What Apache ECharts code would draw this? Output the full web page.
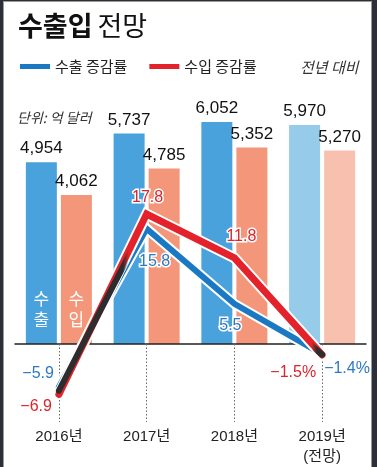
<!DOCTYPE html>
<html>
	<head>
		<meta charset="utf-8">
		<title>수출입 전망</title>
		<style>
			html,body{margin:0;padding:0;background:#2c2f38;}
			#wrap{position:relative;width:377px;height:467px;overflow:hidden;}
			#bg{position:absolute;left:3px;top:1px;width:367px;height:480px;background:#fff;border:1px solid #9a9a9a;}
			#chart{position:absolute;left:0;top:0;width:377px;height:467px;}
		</style>
	</head>
	<body>
		<div id="wrap">
			<div id="bg"></div>
			<div id="chart"></div>
		</div>
		<script src="https://cdn.jsdelivr.net/npm/echarts@6/dist/echarts.min.js" type="text/javascript" charset="utf-8"></script>
		<script type="text/javascript">
			var years = ['2016년','2017년','2018년','2019년\n(전망)'];
			var exportAmt = [4954,5737,6052,5970];
			var importAmt = [4062,4785,5352,5270];
			var exportRate = [-5.9,15.8,5.5,-1.4];
			var importRate = [-6.9,17.8,11.8,-1.5];
			var seriesName = ['수출 증감률','수입 증감률'];

			var numFont = 'Liberation Sans, Arial, Noto Sans CJK KR, sans-serif';
			var krFont = 'Noto Sans CJK KR, sans-serif';
			var blue = '#1b79c4', red = '#e3222b';

			//겹치는 구간 (두 선의 중간값)
			var overlapRate = exportRate.map(function(v,i){
				return (v + importRate[i]) / 2;
			});

			function rateText(v,i){
				var s = Math.abs(v).toFixed(1);
				return (v < 0 ? '−' : '') + s + (i == 3 ? '%' : '');
			}
			function barColors(arr,normal,light){
				return arr.map(function(v,i){
					return {value:v,itemStyle:{color: i == 3 ? light : normal}};
				});
			}
			var labelBase = {
				show:true,
				fontFamily:numFont,
				fontSize:16,
				textBorderColor:'#fff',
				textBorderWidth:3
			};
			var expLabel = [
				{position:'left',distance:4,offset:[0,-13]},
				{position:'bottom',distance:24,offset:[8,0]},
				{position:'bottom',distance:13,offset:[-4,0]},
				{position:'right',distance:1,offset:[0,14]}
			];
			var impLabel = [
				{position:'left',distance:6,offset:[0,12]},
				{position:'top',distance:7,offset:[1,0]},
				{position:'top',distance:12,offset:[7,0]},
				{position:'left',distance:5,offset:[0,18]}
			];
			function lineData(arr,labels,color){
				return arr.map(function(v,i){
					return {value:v,label:Object.assign({},labelBase,labels[i],{color:color,formatter:rateText(v,i)})};
				});
			}

			var myChart = echarts.init(document.getElementById('chart'));
			var option = {
				animation:false,
				backgroundColor:'transparent',
				title:[{
					left:13,
					top:7,
					text:'{b|수출입} {n|전망}',
					textStyle:{
						rich:{
							b:{fontFamily:krFont,fontSize:27,fontWeight:'bold',color:'#111'},
							n:{fontFamily:krFont,fontSize:27,fontWeight:'normal',color:'#111'}
						}
					}
				},{
					left:12,
					top:106,
					text:'단위: 억 달러',
					textStyle:{fontFamily:krFont,fontSize:14,fontStyle:'italic',fontWeight:'normal',color:'#333'}
				},{
					left:295,
					top:55,
					text:'전년 대비',
					textStyle:{fontFamily:krFont,fontSize:15,fontStyle:'italic',fontWeight:'normal',color:'#333'}
				}],
				legend:{
					left:15,
					top:54,
					icon:'rect',
					itemWidth:30,
					itemHeight:5,
					itemGap:22,
					data:[
						{name:seriesName[0],itemStyle:{color:blue}},
						{name:seriesName[1],itemStyle:{color:red}}
					],
					textStyle:{fontFamily:krFont,fontSize:15,color:'#222'}
				},
				// 0 기준선이 grid 아래쪽, 음수 구간은 clip 없이 아래로 그림
				grid:{left:15,right:11,top:110,bottom:123,containLabel:false,outerBoundsMode:'none'},
				xAxis:{
					type:'category',
					data:years,
					z:5,
					axisLine:{onZero:false,lineStyle:{color:'#222',width:1.5}},
					axisTick:{show:true,alignWithLabel:true,length:78,lineStyle:{color:'#666',width:1,type:[1.5,2]}},
					axisLabel:{margin:83,fontFamily:numFont,fontSize:15,color:'#222',lineHeight:20}
				},
				yAxis:[{
					type:'value',min:0,max:6376,show:false
				},{
					type:'value',min:0,max:32.05,show:false
				}],
				series:[{
					name:'수출',
					type:'bar',
					barWidth:31,
					barGap:'13%',
					data:barColors(exportAmt,'#4aa2dc','#97cbea'),
					label:{show:true,position:'top',distance:5,fontFamily:numFont,fontSize:17,color:'#111',
						formatter:function(p){return p.value.toLocaleString('en-US');}},
					markPoint:{
						symbol:'circle',symbolSize:1,
						itemStyle:{color:'rgba(0,0,0,0)'},
						label:{show:true,position:'top',distance:13,formatter:'수\n출',fontFamily:krFont,fontSize:17,lineHeight:21,color:'#fff'},
						data:[{coord:[0,0]}]
					}
				},{
					name:'수입',
					type:'bar',
					barWidth:31,
					barGap:'13%',
					data:barColors(importAmt,'#f3967a','#f8c1af'),
					label:{show:true,position:'top',distance:5,fontFamily:numFont,fontSize:17,color:'#111',
						formatter:function(p){return p.value.toLocaleString('en-US');}},
					markPoint:{
						symbol:'circle',symbolSize:1,
						itemStyle:{color:'rgba(0,0,0,0)'},
						label:{show:true,position:'top',distance:13,formatter:'수\n입',fontFamily:krFont,fontSize:17,lineHeight:21,color:'#fff'},
						data:[{coord:[0,0]}]
					}
				},{
					name:'수출테두리',
					type:'line',
					yAxisIndex:1,
					z:6,
					data:exportRate,
					symbol:'none',
					clip:false,
					lineStyle:{color:'#fff',width:10,cap:'round',join:'miter'}
				},{
					name:seriesName[0],
					type:'line',
					yAxisIndex:1,
					z:7,
					data:lineData(exportRate,expLabel,'#2f78c0'),
					symbol:'circle',
					symbolSize:2,
					itemStyle:{color:'rgba(0,0,0,0)'},
					clip:false,
					lineStyle:{color:blue,width:6,cap:'round',join:'miter'}
				},{
					name:'수입테두리',
					type:'line',
					yAxisIndex:1,
					z:8,
					data:importRate,
					symbol:'none',
					clip:false,
					lineStyle:{color:'#fff',width:11,cap:'round',join:'miter'}
				},{
					name:seriesName[1],
					type:'line',
					yAxisIndex:1,
					z:9,
					data:lineData(importRate,impLabel,'#d9262d'),
					symbol:'circle',
					symbolSize:2,
					itemStyle:{color:'rgba(0,0,0,0)'},
					clip:false,
					lineStyle:{color:red,width:7,cap:'round',join:'miter'}
				},{
					name:'겹침',
					type:'line',
					yAxisIndex:1,
					z:10,
					data:overlapRate,
					symbol:'none',
					clip:false,
					silent:true,
					lineStyle:{
						width:6,
						cap:'round',
						color:new echarts.graphic.LinearGradient(0,0,1,0,[
							{offset:0,color:'#2d2d2f'},
							{offset:0.25,color:'#2d2d2f'},
							{offset:0.27,color:'rgba(45,45,47,0)'},
							{offset:0.95,color:'rgba(45,45,47,0)'},
							{offset:0.97,color:'#2d2d2f'},
							{offset:1,color:'#2d2d2f'}
						])
					}
				}]
			};
			myChart.setOption(option);
		</script>
	</body>
</html>
